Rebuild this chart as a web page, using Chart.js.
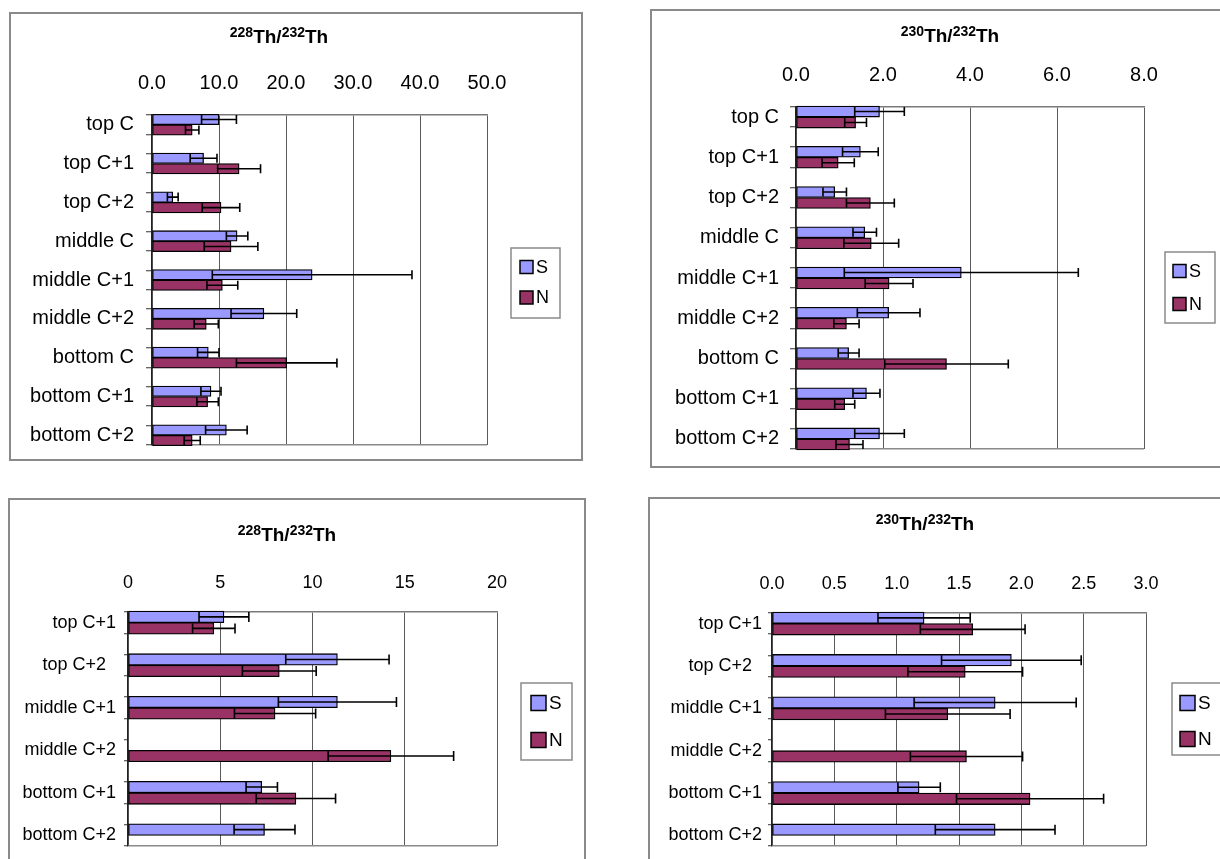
<!DOCTYPE html>
<html>
<head>
<meta charset="utf-8">
<script src="https://cdn.jsdelivr.net/npm/chart.js@4/dist/chart.umd.min.js"></script>
<style>
  html, body { margin: 0; padding: 0; background: #fff; width: 1220px; height: 859px; overflow: hidden; }
  body { position: relative; font-family: 'Liberation Sans', Arial, sans-serif; }
  .panel { position: absolute; box-sizing: border-box; border: 2px solid #8a8a8a; }
  canvas { position: absolute; }
  .ttl { position: absolute; transform: translate(-50%, -50%); white-space: nowrap;
         font: bold 19px 'Liberation Sans', Arial, sans-serif; line-height: 19px; color: #000; }
  .ttl sup { font-size: 14px; vertical-align: 0; position: relative; top: -6px; }
</style>
</head>
<body>
<script>
// categories
const catsTop = ['top C', 'top C+1', 'top C+2', 'middle C', 'middle C+1', 'middle C+2', 'bottom C', 'bottom C+1', 'bottom C+2'];
const catsBottom = ['top C+1', 'top C+2  ', 'middle C+1', 'middle C+2', 'bottom C+1', 'bottom C+2'];

// 228Th/232Th, upper chart
const th228S = [10.0, 7.7, 3.1, 12.7, 23.9, 16.7, 8.4, 8.8, 11.1];
const th228SErr = [2.6, 2.0, 0.8, 1.6, 14.9, 4.9, 1.6, 1.5, 3.1];
const th228N = [6.0, 13.0, 10.3, 11.8, 10.5, 8.1, 20.1, 8.3, 6.0];
const th228NErr = [1.0, 3.2, 2.8, 4.0, 2.3, 1.8, 7.5, 1.6, 1.2];

// 230Th/232Th, upper chart
const th230S = [1.92, 1.48, 0.89, 1.58, 3.80, 2.13, 1.21, 1.62, 1.92];
const th230SErr = [0.57, 0.41, 0.27, 0.27, 2.69, 0.72, 0.24, 0.31, 0.57];
const th230N = [1.37, 0.97, 1.71, 1.73, 2.14, 1.16, 3.46, 1.12, 1.23];
const th230NErr = [0.25, 0.37, 0.55, 0.63, 0.55, 0.29, 1.42, 0.23, 0.31];

// 228Th/232Th, lower chart
const th228S2 = [5.2, 11.35, 11.35, null, 7.25, 7.4];
const th228S2Err = [1.35, 2.8, 3.2, null, 0.85, 1.65];
const th228N2 = [4.65, 8.2, 7.97, 14.25, 9.1, null];
const th228N2Err = [1.15, 2.0, 2.2, 3.4, 2.15, null];

// 230Th/232Th, lower chart
const th230S2 = [1.22, 1.92, 1.79, null, 1.18, 1.79];
const th230S2Err = [0.37, 0.56, 0.65, null, 0.17, 0.48];
const th230N2 = [1.61, 1.55, 1.41, 1.56, 2.07, null];
const th230N2Err = [0.42, 0.46, 0.50, 0.45, 0.59, null];

// x tick values
const ticks228 = [0, 10, 20, 30, 40, 50];
const ticks230 = [0, 2, 4, 6, 8];
const ticks228b = [0, 5, 10, 15, 20];
const ticks230b = [0, 0.5, 1, 1.5, 2, 2.5, 3];

const FONT = "'Liberation Sans', Arial, sans-serif";

const errorBars = {
  id: 'errorBars',
  afterDatasetsDraw(chart, args, o) {
    const ctx = chart.ctx, xs = chart.scales.x;
    ctx.save();
    ctx.strokeStyle = '#000';
    ctx.lineWidth = 1.6;
    chart.data.datasets.forEach((ds, di) => {
      const meta = chart.getDatasetMeta(di);
      meta.data.forEach((bar, i) => {
        const v = ds.data[i].x, e = ds.errors[i];
        if (v == null || e == null) return;
        const x0 = xs.getPixelForValue(v - e), x1 = xs.getPixelForValue(v + e);
        const y = bar.y, h = o.cap / 2;
        ctx.beginPath();
        ctx.moveTo(x0, y); ctx.lineTo(x1, y);
        ctx.moveTo(x0, y - h); ctx.lineTo(x0, y + h);
        ctx.moveTo(x1, y - h); ctx.lineTo(x1, y + h);
        ctx.stroke();
      });
    });
    ctx.restore();
  }
};

// framed legend like the spreadsheet one
const boxLegend = {
  id: 'boxLegend',
  afterDraw(chart, args, o) {
    const ctx = chart.ctx;
    ctx.save();
    ctx.strokeStyle = '#8a8a8a';
    ctx.lineWidth = 1.5;
    ctx.strokeRect(o.x, o.y, o.w, o.h);
    chart.data.datasets.forEach((ds, i) => {
      const cy = o.y + o.rows[i];
      const bx = o.x + o.boxX;
      ctx.fillStyle = ds.backgroundColor;
      ctx.fillRect(bx, cy - o.box / 2, o.box, o.box);
      ctx.strokeStyle = '#000';
      ctx.lineWidth = 1.5;
      ctx.strokeRect(bx, cy - o.box / 2, o.box, o.box);
      ctx.fillStyle = '#000';
      ctx.font = o.font + 'px ' + FONT;
      ctx.textBaseline = 'middle';
      ctx.fillText(ds.label, bx + o.box + 3, cy + 1);
    });
    ctx.restore();
  }
};

const panels = [
  { box: {x: 9, y: 12, w: 574, h: 449}, cv: {x: 9, y: 12, w: 574, h: 480}, plot: {l: 152, t: 115, r: 487, b: 445},
    cats: catsTop, s: th228S, sErr: th228SErr, n: th228N, nErr: th228NErr,
    ticks: ticks228, fmt: v => v.toFixed(1), font: 20, xPad: 20, tl: 6, yPad: 12, bar: 10.5, cap: 9,
    legend: {x: 511, y: 248, w: 49, h: 70, box: 13, boxX: 9, rows: [19, 49.5], font: 18},
    title: {cx: 279, cy: 37, iso: '228'} },
  { box: {x: 650, y: 9, w: 600, h: 459}, cv: {x: 650, y: 9, w: 600, h: 486}, plot: {l: 796, t: 107, r: 1144, b: 449},
    cats: catsTop, s: th230S, sErr: th230SErr, n: th230N, nErr: th230NErr,
    ticks: ticks230, fmt: v => v.toFixed(1), font: 20, xPad: 20, tl: 6, yPad: 11, bar: 11, cap: 9,
    legend: {x: 1165, y: 252, w: 50, h: 71, box: 13, boxX: 8, rows: [19, 52], font: 18},
    title: {cx: 950, cy: 36, iso: '230'} },
  { box: {x: 8, y: 498, w: 578, h: 400}, cv: {x: 8, y: 498, w: 578, h: 400}, plot: {l: 128, t: 612, r: 497, b: 846},
    cats: catsBottom, s: th228S2, sErr: th228S2Err, n: th228N2, nErr: th228N2Err,
    ticks: ticks228b, fmt: v => String(v), font: 18, xPad: 18, tl: 4, yPad: 8, bar: 11.5, cap: 10,
    legend: {x: 521, y: 683, w: 51, h: 77, box: 15, boxX: 10, rows: [20, 57], font: 19},
    title: {cx: 287, cy: 535, iso: '228'} },
  { box: {x: 648, y: 497, w: 600, h: 400}, cv: {x: 648, y: 497, w: 600, h: 400}, plot: {l: 772, t: 613, r: 1146, b: 846},
    cats: catsBottom, s: th230S2, sErr: th230S2Err, n: th230N2, nErr: th230N2Err,
    ticks: ticks230b, fmt: v => v.toFixed(1), font: 18, xPad: 18, tl: 4, yPad: 6, bar: 11.5, cap: 10,
    legend: {x: 1172, y: 683, w: 52, h: 72, box: 15, boxX: 8, rows: [20, 56], font: 19},
    title: {cx: 925, cy: 524, iso: '230'} }
];

panels.forEach((p) => {
  const box = document.createElement('div');
  box.className = 'panel';
  Object.assign(box.style, { left: p.box.x + 'px', top: p.box.y + 'px', width: p.box.w + 'px', height: p.box.h + 'px' });
  document.body.appendChild(box);

  const cv = document.createElement('canvas');
  cv.width = p.cv.w; cv.height = p.cv.h;
  Object.assign(cv.style, { left: p.cv.x + 'px', top: p.cv.y + 'px', width: p.cv.w + 'px', height: p.cv.h + 'px' });
  document.body.appendChild(cv);

  const t = document.createElement('div');
  t.className = 'ttl';
  t.style.left = p.title.cx + 'px';
  t.style.top = p.title.cy + 'px';
  t.innerHTML = '<sup>' + p.title.iso + '</sup>Th/<sup>232</sup>Th';
  document.body.appendChild(t);

  const n = p.cats.length;
  const xH = 40;
  const yW = p.plot.l - p.cv.x;
  const lg = p.legend;

  new Chart(cv, {
    type: 'bar',
    data: {
      datasets: [
        { label: 'S', data: p.s.map((v, i) => ({x: v, y: i})), errors: p.sErr,
          backgroundColor: '#9999FF', borderColor: '#000', borderWidth: 1.3, borderSkipped: false, barThickness: p.bar },
        { label: 'N', data: p.n.map((v, i) => ({x: v, y: i})), errors: p.nErr,
          backgroundColor: '#993366', borderColor: '#000', borderWidth: 1.3, borderSkipped: false, barThickness: p.bar }
      ]
    },
    options: {
      indexAxis: 'y',
      responsive: false,
      animation: false,
      devicePixelRatio: 1,
      clip: false,
      layout: { padding: {
        left: 0,
        top: p.plot.t - p.cv.y - xH,
        right: p.cv.x + p.cv.w - p.plot.r,
        bottom: p.cv.y + p.cv.h - p.plot.b } },
      scales: {
        x: {
          type: 'linear', position: 'top',
          min: p.ticks[0], max: p.ticks[p.ticks.length - 1],
          afterBuildTicks: s => { s.ticks = p.ticks.map(v => ({value: v})); },
          afterFit: s => { s.height = xH; },
          ticks: { callback: v => p.fmt(v), color: '#000', font: {family: FONT, size: p.font},
                   padding: p.xPad, maxRotation: 0, autoSkip: false },
          grid: { color: '#5a5a5a', lineWidth: 1, drawTicks: false, offset: false },
          border: { color: '#7a7a7a', width: 1.5 }
        },
        y: {
          type: 'linear', reverse: true, offset: false,
          min: -0.25, max: n - 0.75,
          afterBuildTicks: s => {
            const tk = [];
            p.cats.forEach((c, i) => tk.push({value: i - 0.25}, {value: i}, {value: i + 0.25}));
            s.ticks = tk;
          },
          afterFit: s => { s.width = yW; },
          ticks: { autoSkip: false, color: '#000', font: {family: FONT, size: p.font}, padding: p.yPad,
                   callback: v => Number.isInteger(v) ? p.cats[v] : '' },
          grid: {
            offset: false, drawOnChartArea: true, tickLength: p.tl, lineWidth: 1.5,
            color: c => (c.tick && c.tick.value === n - 0.75) ? '#8a8a8a' : 'rgba(0,0,0,0)',
            tickColor: c => (c.tick && Number.isInteger(c.tick.value)) ? 'rgba(0,0,0,0)' : '#333',
            tickWidth: 1
          },
          border: { color: '#222', width: 1.2 }
        }
      },
      plugins: {
        legend: { display: false },
        tooltip: { enabled: false },
        title: { display: false },
        errorBars: { cap: p.cap },
        boxLegend: { x: lg.x - p.cv.x, y: lg.y - p.cv.y, w: lg.w, h: lg.h, box: lg.box,
                     boxX: lg.boxX, rows: lg.rows, font: lg.font }
      }
    },
    plugins: [errorBars, boxLegend]
  });
});
</script>
</body>
</html>
